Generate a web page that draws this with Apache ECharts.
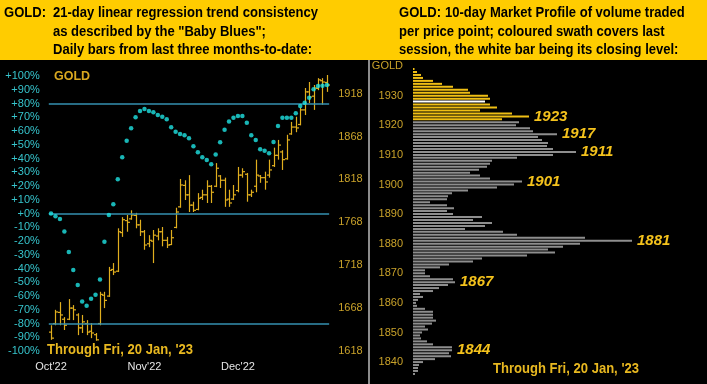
<!DOCTYPE html>
<html><head><meta charset="utf-8">
<style>html,body{margin:0;padding:0;background:#000;}#c{width:707px;height:384px;}</style>
<script src="https://cdn.jsdelivr.net/npm/echarts@6/dist/echarts.min.js"></script>
</head><body><div id="c"></div>
<script>
// ---- Left chart data ----
const monthTicks = {0: "Oct'22", 21: "Nov'22", 42: "Dec'22"};
const barOpen  = [1640,1650,1663,1655,1655,1668,1660,1645,1650,1641,1637,1650,1683,1682,1713,1711,1756,1770,1772,1776,1765,1757,1743,1746,1752,1757,1747,1742,1762,1786,1811,1800,1788,1783,1797,1800,1810,1810,1822,1817,1795,1795,1805,1823,1824,1800,1810,1822,1820,1823,1834,1846,1850,1842,1871,1879,1882,1899,1920,1915,1924,1933,1931];
const barClose = [1633,1663.5,1660,1648,1668,1666,1645,1652,1640,1639,1631,1684,1677,1712,1710,1757,1771,1768,1776.5,1765,1757,1741.5,1747,1753,1757,1747,1741.5,1750,1780,1811.5,1800,1788,1782,1796,1800,1810,1803,1831,1817,1794,1790.5,1800,1823,1827,1800,1803,1823,1820,1815,1829,1846,1858,1841,1864,1879,1878,1899,1920,1914,1924.5,1934,1931.5,1928];
const barLow   = [1631,1648,1648,1642.5,1654,1654,1636.5,1639,1636.5,1633,1630,1648,1668,1681,1706.5,1710,1751,1757,1771,1761,1752,1736,1739,1720.5,1747,1740,1738,1741.5,1761,1785,1794,1780,1780,1782,1794,1790.5,1790.5,1809,1808,1786,1786,1794,1803,1820,1792,1797.5,1803,1814,1806,1820,1832.5,1841,1829,1841,1870,1873,1881,1893,1907,1899,1922,1905,1920];
const barHigh  = [1648,1666,1675,1657.5,1678.5,1671.5,1662,1660,1654,1650.5,1639,1687,1687,1716,1720.5,1761,1774,1776.5,1782,1779,1771,1759,1753,1759,1761,1762.5,1751,1759,1785,1818.5,1817,1823,1792,1802,1806,1817,1811.5,1837,1823,1820,1806,1811.5,1832.5,1831,1825.5,1806,1841,1823,1827,1841,1855,1864,1852,1870,1885,1891,1902,1924.5,1931.5,1928,1936,1936,1939.7];
const trendPct = [0,-2,-4,-13,-28,-41,-52,-64,-67,-62,-59,-48,-20.5,-1,6.7,25,41,53,62,70,74.5,76,74.5,73.6,71.6,70.4,68.5,62.7,59.5,57.8,57,54.7,49,44.5,41,39,35.8,43,51.8,61,67,69.7,71,71,66,57,53.5,46.7,45.7,43.8,52,63.6,69.7,69.7,69.7,72.9,78.2,80.6,84.2,90.3,92.7,93,93.5];
const refLines = [80, 0, -80];
const priceMin = 1618, priceMax = 1938.5, priceStep = 50;

// ---- Right chart (market profile) data, from 1836 upward ----
const profileLow = 1836;
const profileVolume = [2,5,5,6,10,22,38,36,39,39,20,14,8,7,9,15,12,19,23,20,20,20,12,4,3,5,10,7,20,26,35,42,40,17,12,12,27,36,60,69,114,142,135,150,167,219,172,104,90,52,72,79,60,69,40,34,41,34,17,34,35,39,55,84,101,109,77,67,57,66,74,77,79,104,140,163,140,134,135,129,125,144,120,117,103,106,89,116,99,67,84,77,72,77,75,57,55,40,29,20,10,8,4,1.5,0];
const swathLow = 1922, swathHigh = 1939, closeLevel = 1928;
const callouts = [1923, 1917, 1911, 1901, 1881, 1867, 1844];
const profileTickLabels = {1840:'1840',1850:'1850',1860:'1860',1870:'1870',1880:'1880',1890:'1890',1900:'1900',1910:'1910',1920:'1920',1930:'1930',1940:'GOLD'};

const days = barOpen.map((_, i) => String(i));
const ohlc = barOpen.map((o, i) => [i, o, barClose[i], barLow[i], barHigh[i]]);
const levels = profileVolume.map((_, i) => String(profileLow + i));
const profileData = profileVolume.map((v, i) => {
  const p = profileLow + i;
  let color = '#8e8e8e';
  if (p >= swathLow && p <= swathHigh) color = '#f0bf14';
  if (p === closeLevel) color = '#ffffff';
  const item = {value: v, itemStyle: {color}};
  if (callouts.includes(p)) {
    item.label = {show: true, position: 'right', distance: 5, formatter: String(p),
      color: '#f4c21c', fontStyle: 'italic', fontWeight: 'bold', fontSize: 15,
      fontFamily: 'Arial, "Liberation Sans", sans-serif'};
  }
  return item;
});

// condensed bold text: Liberation Sans bold, horizontally squeezed
const baseFont = '"Liberation Sans", Arial, sans-serif';
const mctx = document.createElement('canvas').getContext('2d');
function measure(text, font) { mctx.font = font; return mctx.measureText(text).width; }
const headFont = 'bold 14px ' + baseFont;
const headScale = 265 / measure('21-day linear regression trend consistency', headFont);
const footFont = 'bold 15px ' + baseFont;
const footScale = 146 / measure("Through Fri, 20 Jan, '23", footFont);

function txt(text, x, y, font, fill, sx) {
  return {type: 'text', x: x, y: y, scaleX: sx || 1, silent: true, z: 10,
    style: {text, x: 0, y: 0, font, fill, align: 'left', verticalAlign: 'middle',
      textAlign: 'left', textVerticalAlign: 'middle'}};
}

const chart = echarts.init(document.getElementById('c'), null, {renderer: 'canvas'});
chart.setOption({
  backgroundColor: '#000',
  animation: false,
  grid: [
    {left: 48.8, width: 280.35, top: 76, height: 275},
    {left: 413, width: 280, top: 64.6, height: 310.8}
  ],
  xAxis: [
    {type: 'category', gridIndex: 0, data: days, boundaryGap: true,
     axisLine: {show: false}, axisTick: {show: false}, splitLine: {show: false},
     axisLabel: {interval: 0, margin: 10, color: '#e6e6e6', fontSize: 11, fontFamily: 'Arial, "Liberation Sans", sans-serif',
       formatter: (v, i) => monthTicks[i] || ''}},
    {type: 'value', gridIndex: 1, min: 0, max: 280, show: false}
  ],
  yAxis: [
    {type: 'value', gridIndex: 0, min: -100, max: 100, interval: 10, position: 'left',
     axisLine: {show: false}, axisTick: {show: false}, splitLine: {show: false},
     axisLabel: {margin: 9, color: '#36c4cc', fontSize: 11, fontFamily: 'Arial, "Liberation Sans", sans-serif',
       formatter: v => (v >= 0 ? '+' : '') + v + '%'}},
    {type: 'value', gridIndex: 0, min: priceMin, max: priceMax, interval: priceStep, position: 'right',
     axisLine: {show: false}, axisTick: {show: false}, splitLine: {show: false},
     axisLabel: {margin: 9, color: '#c9a22a', fontSize: 11, showMaxLabel: false, fontFamily: 'Arial, "Liberation Sans", sans-serif',
       formatter: v => String(v)}},
    {type: 'category', gridIndex: 1, data: levels, boundaryGap: true,
     axisLine: {show: false}, axisTick: {show: false}, splitLine: {show: false},
     axisLabel: {interval: 0, margin: 10, color: '#c9a22a', fontSize: 11, fontFamily: 'Arial, "Liberation Sans", sans-serif',
       formatter: v => profileTickLabels[v] || ''}}
  ],
  series: [
    {type: 'scatter', xAxisIndex: 0, yAxisIndex: 0, data: trendPct, symbolSize: 4.5,
     itemStyle: {color: '#1fe3e3'}, z: 5, silent: true,
     markLine: {silent: true, symbol: 'none', label: {show: false},
       lineStyle: {color: '#3490b0', width: 1.5, type: 'solid'},
       data: refLines.map(v => ({yAxis: v}))}},
    {type: 'custom', xAxisIndex: 0, yAxisIndex: 1, data: ohlc, z: 4, silent: true,
     encode: {x: 0, y: [1, 2, 3, 4]},
     renderItem: (params, api) => {
       const i = api.value(0);
       const o = api.coord([i, api.value(1)]);
       const c = api.coord([i, api.value(2)]);
       const lo = api.coord([i, api.value(3)]);
       const hi = api.coord([i, api.value(4)]);
       const x = Math.round(o[0]) + 0.5;
       const st = {stroke: '#e0ae1e', lineWidth: 1.2};
       return {type: 'group', children: [
         {type: 'line', shape: {x1: x, y1: hi[1], x2: x, y2: lo[1]}, style: st},
         {type: 'line', shape: {x1: x - 2.5, y1: o[1], x2: x, y2: o[1]}, style: st},
         {type: 'line', shape: {x1: x, y1: c[1], x2: x + 2.5, y2: c[1]}, style: st}
       ]};
     }},
    {type: 'bar', xAxisIndex: 1, yAxisIndex: 2, data: profileData, barWidth: 2, silent: true}
  ],
  graphic: [
    {type: 'rect', shape: {x: 0, y: 0, width: 707, height: 60}, style: {fill: '#ffcc00'}, silent: true},
    {type: 'rect', shape: {x: 368, y: 60, width: 2, height: 324}, style: {fill: '#8c8c8c'}, silent: true},
    txt('GOLD:', 4, 13, headFont, '#000', headScale),
    txt('21-day linear regression trend consistency', 53, 13, headFont, '#000', headScale),
    txt('as described by the "Baby Blues";', 53, 32, headFont, '#000', headScale),
    txt('Daily bars from last three months-to-date:', 53, 50, headFont, '#000', headScale),
    txt('GOLD:', 399, 13, headFont, '#000', headScale),
    txt('10-day Market Profile of volume traded', 445, 13, headFont, '#000', headScale),
    txt('per price point; coloured swath covers last', 399, 32, headFont, '#000', headScale),
    txt('session, the white bar being its closing level:', 399, 50, headFont, '#000', headScale),
    txt('GOLD', 54, 77, 'bold 12.5px ' + baseFont, '#d9a820'),
    txt("Through Fri, 20 Jan, '23", 47, 350, footFont, '#e8b820', footScale),
    txt("Through Fri, 20 Jan, '23", 493, 369, footFont, '#e8b820', footScale)
  ]
});
</script></body></html>
